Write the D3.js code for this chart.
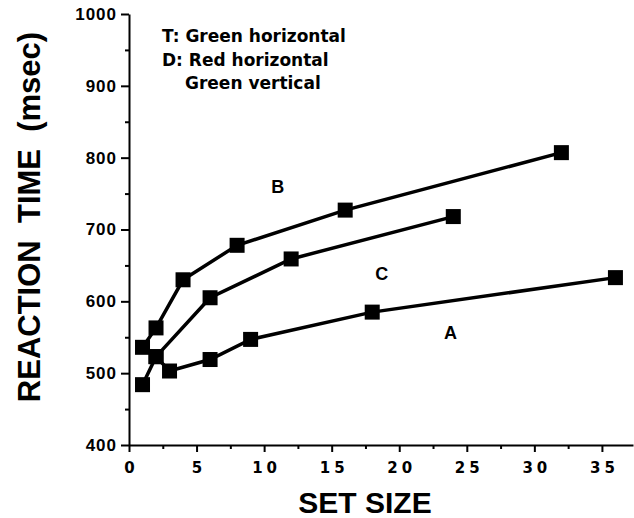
<!DOCTYPE html>
<html>
<head>
<meta charset="utf-8">
<script src="https://cdn.jsdelivr.net/npm/d3@7"></script>
<style>
  body { margin: 0; background: #fff; }
  svg { display: block; }
  .axis path, .axis line { stroke: #000; stroke-width: 2px; }
  .axis text { fill: #000; }
</style>
</head>
<body>
<svg id="chart"></svg>
<script>
const width = 634,
  height = 518;

// set sizes and reaction times (msec)
const setSizeA = [2, 3, 6, 9, 18, 36];
const rtA = [523, 503, 519, 547, 585, 633];
const setSizeB = [1, 2, 4, 8, 16, 32];
const rtB = [536, 563, 630, 678, 727, 807];
const setSizeC = [1, 2, 6, 12, 24];
const rtC = [484, 523, 605, 659, 718];

const xTicks = [0, 5, 10, 15, 20, 25, 30, 35];
const xMinor = [2.5, 7.5, 12.5, 17.5, 22.5, 27.5, 32.5];
const yTicks = [400, 500, 600, 700, 800, 900, 1000];
const yMinor = [450, 550, 650, 750, 850, 950];

const legendLines = ["T: Green horizontal", "D: Red horizontal", "Green vertical"];

const series = [
  { name: "A", xs: setSizeA, ys: rtA, labelAt: [23.8, 557] },
  { name: "B", xs: setSizeB, ys: rtB, labelAt: [11.0, 760] },
  { name: "C", xs: setSizeC, ys: rtC, labelAt: [18.7, 639] }
];

const x = d3.scaleLinear().domain([0, 37.3]).range([129, 633]);
const y = d3.scaleLinear().domain([400, 1000]).range([445, 14]);

const svg = d3.select("#chart").attr("width", width).attr("height", height);

// x axis
svg
  .append("g")
  .attr("class", "axis")
  .attr("transform", `translate(0,${y(400)})`)
  .call(
    d3
      .axisBottom(x)
      .tickValues(xTicks)
      .tickSize(7)
      .tickSizeOuter(0)
      .tickPadding(10)
  )
  .call(g =>
    g
      .selectAll("text")
      .style("font-family", "DejaVu Sans")
      .style("font-weight", "bold")
      .style("font-size", "15px")
      .style("letter-spacing", "4px")
      .attr("dx", 2)
  );

svg
  .append("g")
  .attr("class", "axis")
  .attr("transform", `translate(0,${y(400)})`)
  .call(
    d3
      .axisBottom(x)
      .tickValues(xMinor)
      .tickSize(4)
      .tickFormat("")
  )
  .call(g => g.select(".domain").remove());

// y axis
svg
  .append("g")
  .attr("class", "axis")
  .attr("transform", `translate(${x(0)},0)`)
  .call(
    d3
      .axisLeft(y)
      .tickValues(yTicks)
      .tickFormat(d3.format("d"))
      .tickSize(8)
      .tickSizeOuter(0)
      .tickPadding(4)
  )
  .call(g =>
    g
      .selectAll("text")
      .style("font-family", "Liberation Sans")
      .style("font-weight", "bold")
      .style("font-size", "17px")
      .style("letter-spacing", "1px")
  );

svg
  .append("g")
  .attr("class", "axis")
  .attr("transform", `translate(${x(0)},0)`)
  .call(
    d3
      .axisLeft(y)
      .tickValues(yMinor)
      .tickSize(4)
      .tickFormat("")
  )
  .call(g => g.select(".domain").remove());

// axis titles
svg
  .append("text")
  .attr("x", 365)
  .attr("y", 513)
  .attr("text-anchor", "middle")
  .style("font-family", "Liberation Sans")
  .style("font-weight", "bold")
  .style("font-size", "30px")
  .text("SET SIZE");

svg
  .append("text")
  .attr("transform", "translate(40,217) rotate(-90)")
  .attr("text-anchor", "middle")
  .style("font-family", "Liberation Sans")
  .style("font-weight", "bold")
  .style("font-size", "31px")
  .style("white-space", "pre")
  .text("REACTION  TIME  (msec)");

// lines and squares
const line = d3
  .line()
  .x(d => x(d[0]))
  .y(d => y(d[1]));

series.forEach(s => {
  const pts = s.xs.map((v, i) => [v, s.ys[i]]);
  svg
    .append("path")
    .datum(pts)
    .attr("d", line)
    .attr("fill", "none")
    .attr("stroke", "#000")
    .attr("stroke-width", 3.5);

  svg
    .append("g")
    .selectAll("rect")
    .data(pts)
    .enter()
    .append("rect")
    .attr("x", d => x(d[0]) - 7.5)
    .attr("y", d => y(d[1]) - 7.5)
    .attr("width", 15)
    .attr("height", 15)
    .attr("fill", "#000");

  svg
    .append("text")
    .attr("x", x(s.labelAt[0]))
    .attr("y", y(s.labelAt[1]))
    .attr("text-anchor", "middle")
    .attr("dy", "0.35em")
    .style("font-family", "Liberation Sans")
    .style("font-weight", "bold")
    .style("font-size", "18px")
    .text(s.name);
});

// legend
svg
  .append("g")
  .selectAll("text")
  .data(legendLines)
  .enter()
  .append("text")
  .attr("x", (d, i) => (i === 2 ? 185 : 162))
  .attr("y", (d, i) => 42 + i * 23.7)
  .style("font-family", "DejaVu Sans")
  .style("font-weight", "bold")
  .style("font-size", "17px")
  .text(d => d);
</script>
</body>
</html>
